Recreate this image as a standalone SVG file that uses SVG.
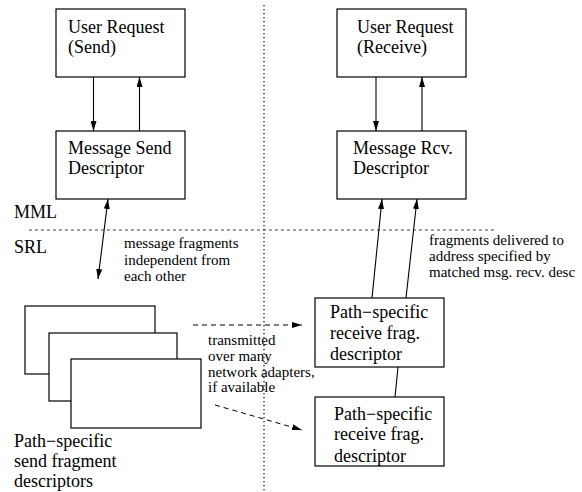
<svg xmlns="http://www.w3.org/2000/svg" width="582" height="492" viewBox="0 0 582 492" font-family="Liberation Serif, Times New Roman, serif">
<defs>
<marker id="ah" viewBox="0 0 10 6" refX="10" refY="3" markerWidth="10" markerHeight="6" markerUnits="userSpaceOnUse" orient="auto-start-reverse">
<path d="M0,0 L10,3 L0,6 Z" fill="#000"/>
</marker>
</defs>
<style>
.box{fill:#fff;stroke:#000;stroke-width:1.2}
.big{font-size:18px;fill:#000}
.sm{font-size:15px;fill:#000}
.ln{stroke:#000;stroke-width:1.1;fill:none}
.dash{stroke:#000;stroke-width:1;fill:none;stroke-dasharray:5 4}
</style>
<rect width="582" height="492" fill="#fff"/>
<g id="dividers">
<line x1="29" y1="230" x2="497" y2="230" stroke="#444" stroke-width="1" stroke-dasharray="3 3"/>
<line x1="264" y1="5" x2="264" y2="492" stroke="#333" stroke-width="1.5" stroke-dasharray="1.2 2.8"/>
</g>
<g id="layer-labels">
<text class="big" x="14" y="218" font-family="Liberation Serif, serif">MML</text>
<text class="big" x="14" y="253" font-family="Liberation Serif, serif">SRL</text>
</g>
<g id="user-send">
<rect class="box" x="56" y="9" width="129" height="68"/>
<text class="big" x="68" y="33">User Request</text>
<text class="big" x="68" y="53">(Send)</text>
</g>
<g id="msg-send">
<rect class="box" x="56" y="131" width="129" height="68"/>
<text class="big" x="68" y="154">Message Send</text>
<text class="big" x="68" y="174">Descriptor</text>
</g>
<g id="user-recv">
<rect class="box" x="337" y="9" width="129" height="68"/>
<text class="big" x="357" y="33">User Request</text>
<text class="big" x="357" y="53">(Receive)</text>
</g>
<g id="msg-recv">
<rect class="box" x="337" y="131" width="129" height="68"/>
<text class="big" x="353" y="154">Message Rcv.</text>
<text class="big" x="353" y="174">Descriptor</text>
</g>
<g id="send-frags">
<rect class="box" x="25" y="306" width="130" height="68"/>
<rect class="box" x="49" y="333" width="128" height="68"/>
<rect class="box" x="71" y="359" width="130" height="69"/>
<text class="big" x="14" y="447">Path−specific</text>
<text class="big" x="14" y="467">send fragment</text>
<text class="big" x="14" y="487">descriptors</text>
</g>
<g id="recv-frag-1">
<rect class="box" x="315" y="298" width="129" height="69"/>
<text class="big" x="330" y="318">Path−specific</text>
<text class="big" x="330" y="339">receive frag.</text>
<text class="big" x="330" y="360">descriptor</text>
</g>
<g id="recv-frag-2">
<rect class="box" x="315" y="397" width="129" height="69"/>
<text class="big" x="334" y="420">Path−specific</text>
<text class="big" x="334" y="440">receive frag.</text>
<text class="big" x="334" y="462">descriptor</text>
</g>
<g id="connectors">
<line class="ln" x1="93.5" y1="77" x2="93.5" y2="131" marker-end="url(#ah)"/>
<line class="ln" x1="139.5" y1="131" x2="139.5" y2="77" marker-end="url(#ah)"/>
<line class="ln" x1="376" y1="77" x2="376" y2="131" marker-end="url(#ah)"/>
<line class="ln" x1="422" y1="131" x2="422" y2="77" marker-end="url(#ah)"/>
<line class="ln" x1="98" y1="279" x2="108" y2="199" marker-start="url(#ah)" marker-end="url(#ah)"/>
<line class="ln" x1="372" y1="298" x2="382" y2="199" marker-end="url(#ah)"/>
<line class="ln" x1="406" y1="298" x2="417" y2="199" marker-end="url(#ah)"/>
<line class="ln" x1="398" y1="367" x2="395" y2="397"/>
<line class="dash" x1="193" y1="325" x2="302" y2="325" marker-end="url(#ah)"/>
<line class="dash" x1="215" y1="405" x2="302" y2="430" marker-end="url(#ah)"/>
</g>
<g id="notes">
<text class="sm" x="124" y="248">message fragments</text>
<text class="sm" x="124" y="265">independent from</text>
<text class="sm" x="124" y="281">each other</text>
<text class="sm" x="429" y="245">fragments delivered to</text>
<text class="sm" x="429" y="261">address specified by</text>
<text class="sm" x="429" y="277">matched msg. recv. desc</text>
<text class="sm" x="208" y="345">transmitted</text>
<text class="sm" x="208" y="361">over many</text>
<text class="sm" x="208" y="377">network adapters,</text>
<text class="sm" x="208" y="392">if available</text>
</g>
</svg>
